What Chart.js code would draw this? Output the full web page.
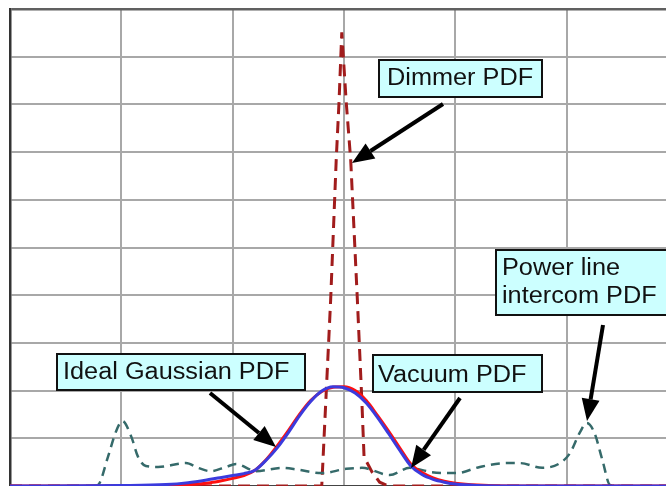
<!DOCTYPE html>
<html>
<head>
<meta charset="utf-8">
<script src="https://cdn.jsdelivr.net/npm/chart.js@4.4.1/dist/chart.umd.min.js"></script>
<style>
  html, body { margin: 0; padding: 0; background: #fff; overflow: hidden; }
  #wrap { width: 666px; height: 486px; }
</style>
</head>
<body>
<div id="wrap"><canvas id="grafico"></canvas></div>
<script>
// x in grid units (centre = 0), y in grid units (0..10)
const gaussX = [-3, -2, -1.6, -1.4, -1.2, -1.1, -1.0, -0.9, -0.8, -0.7, -0.6, -0.5, -0.4, -0.3, -0.2, -0.1, 0, 0.1, 0.2, 0.3, 0.4, 0.5, 0.6, 0.7, 0.8, 0.9, 1.0, 1.2, 1.5, 2.9];
const idealGaussian = [0, 0, 0.01, 0.03, 0.07, 0.11, 0.16, 0.22, 0.33, 0.55, 0.84, 1.16, 1.5, 1.79, 1.98, 2.07, 2.08, 2.0, 1.79, 1.48, 1.15, 0.8, 0.46, 0.28, 0.17, 0.1, 0.06, 0.02, 0, 0];
const vacuum = [0, 0.01, 0.03, 0.07, 0.14, 0.18, 0.22, 0.26, 0.33, 0.54, 0.8, 1.12, 1.47, 1.77, 1.99, 2.08, 2.06, 1.95, 1.74, 1.44, 1.1, 0.75, 0.42, 0.24, 0.14, 0.08, 0.04, 0.01, 0, 0];

const dimmerX = [-3, -0.2, -0.12, -0.07, -0.045, -0.02, 0.02, 0.06, 0.12, 0.16, 0.18, 0.25, 0.32, 0.4, 2.9];
const dimmer = [0, 0, 3.9, 6.84, 8.04, 9.51, 8.04, 6.84, 3.9, 1.8, 0.61, 0.3, 0.08, 0, 0];

const intercomX = [-2.25, -2.21, -2.12, -2.05, -1.99, -1.91, -1.85, -1.78, -1.67, -1.42, -1.31, -1.2, -1.06, -0.97, -0.79, -0.56, -0.41, -0.2, 0.02, 0.16, 0.41, 0.59, 0.79, 1.01, 1.22, 1.46, 1.58, 1.78, 1.94, 2.03, 2.12, 2.18, 2.25, 2.32, 2.39, 2.48];
const intercom = [0, 0.02, 0.61, 1.13, 1.36, 1.03, 0.61, 0.42, 0.40, 0.48, 0.38, 0.31, 0.40, 0.46, 0.31, 0.38, 0.34, 0.27, 0.36, 0.38, 0.23, 0.38, 0.29, 0.27, 0.40, 0.48, 0.48, 0.38, 0.48, 0.69, 1.13, 1.32, 1.11, 0.55, 0.02, 0];

// callout boxes: [x, y, w, h], text lines [text, x, baseline], arrow [x1, y1, tipX, tipY]
const callouts = [
  { box: [379, 60, 163, 37], lines: [['Dimmer PDF', 387, 85]], arrow: [443, 104, 352, 163] },
  { box: [496, 250, 175, 65], lines: [['Power line', 502, 275], ['intercom PDF', 502, 303]], arrow: [603, 325, 587, 421] },
  { box: [57, 354, 248, 36], lines: [['Ideal Gaussian PDF', 63, 379]], arrow: [210, 393, 276, 447] },
  { box: [373, 355, 169, 37], lines: [['Vacuum PDF', 378, 382]], arrow: [460, 398, 411, 468] }
];

const pares = (xs, ys) => xs.map((x, i) => ({ x: x, y: ys[i] }));

const desenhaCallouts = {
  id: 'callouts',
  afterDatasetsDraw(chart) {
    const ctx = chart.ctx;
    callouts.forEach(c => {
      // seta
      const [x1, y1, x2, y2] = c.arrow;
      const ang = Math.atan2(y2 - y1, x2 - x1);
      const len = 22, half = 9;
      const bx = x2 - len * Math.cos(ang), by = y2 - len * Math.sin(ang);
      ctx.save();
      ctx.strokeStyle = '#000';
      ctx.fillStyle = '#000';
      ctx.lineWidth = 4;
      ctx.beginPath();
      ctx.moveTo(x1, y1);
      ctx.lineTo(bx, by);
      ctx.stroke();
      ctx.beginPath();
      ctx.moveTo(x2, y2);
      ctx.lineTo(bx + half * Math.sin(ang), by - half * Math.cos(ang));
      ctx.lineTo(bx - half * Math.sin(ang), by + half * Math.cos(ang));
      ctx.closePath();
      ctx.fill();

      // caixa
      const [bxx, byy, bw, bh] = c.box;
      ctx.fillStyle = '#CCFFFF';
      ctx.fillRect(bxx, byy, bw, bh);
      ctx.lineWidth = 2;
      ctx.strokeStyle = '#111';
      ctx.strokeRect(bxx, byy, bw, bh);

      // texto
      ctx.fillStyle = '#111';
      ctx.font = '23px "Liberation Sans", Arial, sans-serif';
      ctx.textBaseline = 'alphabetic';
      c.lines.forEach(([t, tx, ty]) => {
        ctx.save();
        ctx.translate(tx, ty);
        ctx.scale(1.1, 1);
        ctx.fillText(t, 0, 0);
        ctx.restore();
      });
      ctx.restore();
    });
  }
};

new Chart(document.getElementById('grafico'), {
  type: 'line',
  data: {
    datasets: [
      {
        label: 'Vacuum PDF',
        data: pares(gaussX, vacuum),
        borderColor: '#3B3BDD',
        borderWidth: 3,
        cubicInterpolationMode: 'monotone',
        order: 0
      },
      {
        label: 'Ideal Gaussian PDF',
        data: pares(gaussX, idealGaussian),
        borderColor: '#FF1010',
        borderWidth: 3,
        cubicInterpolationMode: 'monotone',
        order: 1
      },
      {
        label: 'Power line intercom PDF',
        data: pares(intercomX, intercom),
        borderColor: '#356A6A',
        borderWidth: 2.5,
        borderDash: [9, 6],
        cubicInterpolationMode: 'monotone',
        order: 2
      },
      {
        label: 'Dimmer PDF',
        data: pares(dimmerX, dimmer),
        borderColor: '#A11C1C',
        borderWidth: 3,
        borderDash: [12, 7],
        tension: 0,
        order: 3
      }
    ]
  },
  options: {
    responsive: true,
    maintainAspectRatio: false,
    animation: false,
    layout: { padding: { left: 10, top: 9, right: 0, bottom: 0 } },
    elements: { point: { radius: 0 } },
    plugins: { legend: { display: false }, tooltip: { enabled: false } },
    scales: {
      x: {
        type: 'linear',
        min: -3,
        max: 2.892,
        ticks: { display: false, stepSize: 1, includeBounds: false },
        grid: { color: '#A8A8A8', lineWidth: 2, drawTicks: false },
        border: { color: '#444', width: 2 }
      },
      y: {
        min: 0,
        max: 10,
        ticks: { display: false, stepSize: 1 },
        grid: {
          color: ctx => (ctx.tick && ctx.tick.value === 10 ? '#606060' : '#A8A8A8'),
          lineWidth: ctx => (ctx.tick && ctx.tick.value === 10 ? 2.5 : 2),
          drawTicks: false
        },
        border: { color: '#333', width: 2.5 }
      }
    }
  },
  plugins: [desenhaCallouts]
});
</script>
</body>
</html>
